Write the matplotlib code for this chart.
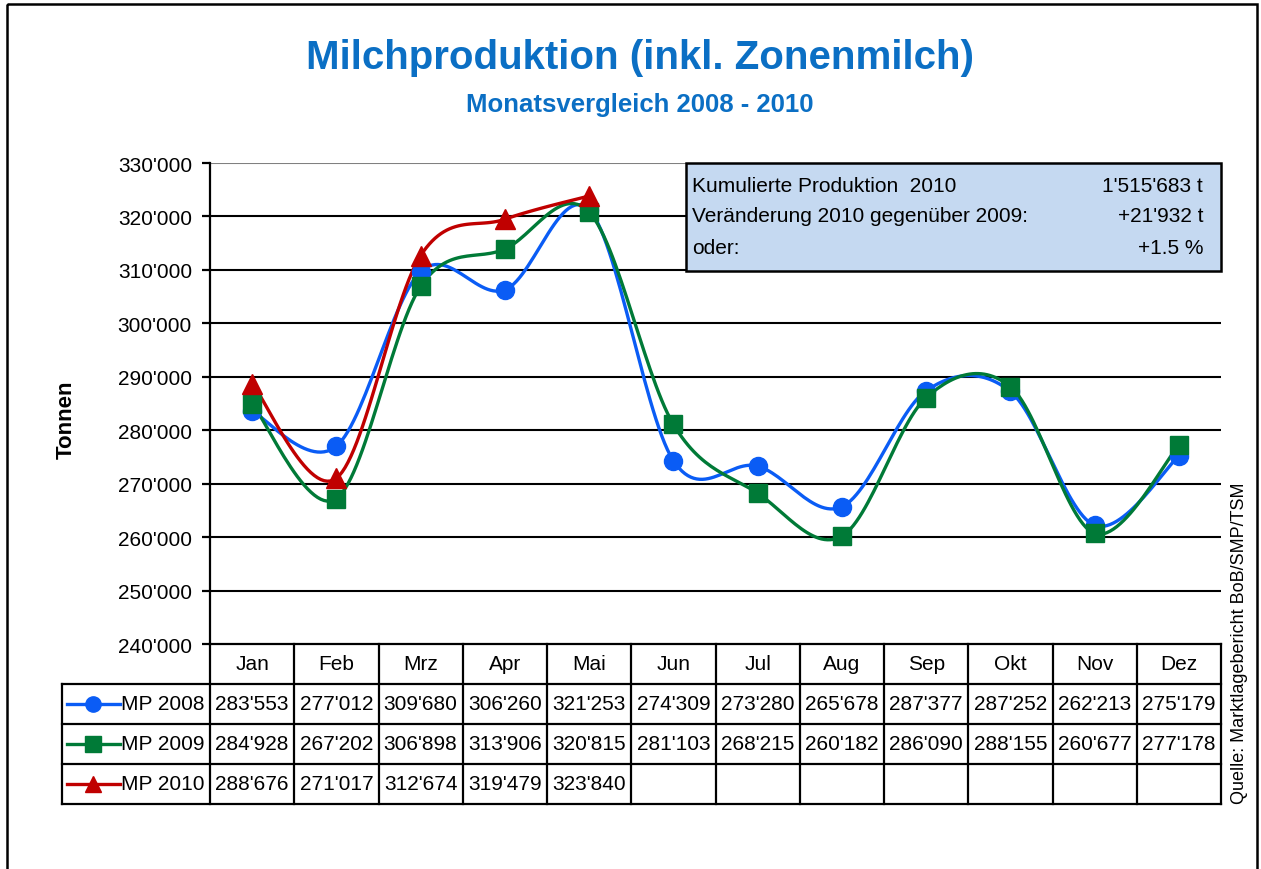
import matplotlib
matplotlib.use("Agg")
import matplotlib.pyplot as plt
from matplotlib.patches import Rectangle
from matplotlib.ticker import FuncFormatter
import numpy as np

plt.rcParams['font.family'] = ['Liberation Sans Narrow', 'Liberation Sans', 'DejaVu Sans']

months = ["Jan", "Feb", "Mrz", "Apr", "Mai", "Jun", "Jul", "Aug", "Sep", "Okt", "Nov", "Dez"]
mp2008 = [283553, 277012, 309680, 306260, 321253, 274309, 273280, 265678, 287377, 287252, 262213, 275179]
mp2009 = [284928, 267202, 306898, 313906, 320815, 281103, 268215, 260182, 286090, 288155, 260677, 277178]
mp2010 = [288676, 271017, 312674, 319479, 323840]
series_names = ["MP 2008", "MP 2009", "MP 2010"]
info_left = ["Kumulierte Produktion  2010", "Veränderung 2010 gegenüber 2009:", "oder:"]
info_right = ["1'515'683 t", "+21'932 t", "+1.5 %"]

colors = ["#0A5CF5", "#007A37", "#C00000"]
markers = ["o", "s", "^"]
title_blue = "#0B6FC4"

W, H = 1261, 870


def fmt(v):
    return "{:,}".format(int(v)).replace(",", "'")


def smooth(y, n=30):
    # Excel-artige Glaettung (Catmull-Rom / Bezier)
    y = np.asarray(y, dtype=float)
    x = np.arange(len(y), dtype=float)
    pts = np.column_stack([x, y])
    out = [pts[0]]
    for i in range(len(pts) - 1):
        p0 = pts[i - 1] if i > 0 else pts[i]
        p1 = pts[i]
        p2 = pts[i + 1]
        p3 = pts[i + 2] if i + 2 < len(pts) else pts[i + 1]
        c1 = p1 + (p2 - p0) / 6.0
        c2 = p2 - (p3 - p1) / 6.0
        t = np.linspace(0, 1, n)[1:, None]
        b = (1 - t) ** 3 * p1 + 3 * (1 - t) ** 2 * t * c1 + 3 * (1 - t) * t ** 2 * c2 + t ** 3 * p2
        out.extend(b)
    out = np.array(out)
    return out[:, 0], out[:, 1]


fig = plt.figure(figsize=(W / 100, H / 100), dpi=100)

ax_l, ax_r, ax_t, ax_b = 210, 1221, 164, 645
ax = fig.add_axes([ax_l / W, 1 - ax_b / H, (ax_r - ax_l) / W, (ax_b - ax_t) / H])
ax.set_xlim(-0.5, 11.5)
ax.set_ylim(240000, 330000)
ax.set_yticks(np.arange(240000, 330001, 10000))
ax.yaxis.set_major_formatter(FuncFormatter(lambda v, p: fmt(v)))
ax.set_xticks([])
for s in ["top", "right", "bottom"]:
    ax.spines[s].set_visible(False)
ax.spines["left"].set_linewidth(1.6)
ax.tick_params(axis="y", length=6, width=1.6, labelsize=15, pad=7)
for v in np.arange(250000, 330000, 10000):
    ax.axhline(v, color="black", lw=1.5, zorder=1)
ax.axhline(330000, color="#808080", lw=1.5, zorder=1)

for vals, c, m in zip([mp2008, mp2009, mp2010], colors, markers):
    sx, sy = smooth(vals)
    ax.plot(sx, sy, color=c, lw=2.4, zorder=3)
    ax.plot(np.arange(len(vals)), vals, linestyle="none", marker=m, color=c,
            markersize=13 if m != "^" else 14, zorder=4)

# overlay in Pixelkoordinaten
ov = fig.add_axes([0, 0, 1, 1])
ov.set_xlim(0, W)
ov.set_ylim(H, 0)
ov.axis("off")

# Rahmen um Grafik
ov.add_patch(Rectangle((7, 5), 1250, 900, fill=False, lw=1.8, ec="black", clip_on=True))

ov.text(640, 58, "Milchproduktion (inkl. Zonenmilch)", ha="center", va="center",
        fontsize=29, fontweight="bold", color=title_blue)
ov.text(640, 105, "Monatsvergleich 2008 - 2010", ha="center", va="center",
        fontsize=18.5, fontweight="bold", color=title_blue)

ov.text(66, 420, "Tonnen", rotation=90, ha="center", va="center", fontsize=16, fontweight="bold")

# Infobox
ov.add_patch(Rectangle((686, 164), 535, 108, fc="#C5D9F1", ec="black", lw=1.8, zorder=5))
for i, (a, b) in enumerate(zip(info_left, info_right)):
    yy = 186 + i * 31
    ov.text(692, yy, a, ha="left", va="center", fontsize=15, zorder=6)
    ov.text(1203, yy, b, ha="right", va="center", fontsize=15, zorder=6)

# Datentabelle
cw = (ax_r - ax_l) / 12
rows_y = [645, 685, 725, 765, 805]
lw = 1.6
ov.plot([ax_l, ax_r], [645, 645], color="black", lw=lw)
for k in range(13):
    x = ax_l + k * cw
    ov.plot([x, x], [645, 805], color="black", lw=lw)
for y in rows_y[1:]:
    ov.plot([62, ax_r], [y, y], color="black", lw=lw)
ov.plot([62, 62], [685, 805], color="black", lw=lw)
for k, mname in enumerate(months):
    ov.text(ax_l + (k + 0.5) * cw, 665, mname, ha="center", va="center", fontsize=15)

for r, (vals, c, m, name) in enumerate(zip([mp2008, mp2009, mp2010], colors, markers, series_names)):
    yc = (rows_y[r + 1] + rows_y[r + 2]) / 2
    ov.plot([67, 120], [yc, yc], color=c, lw=2.4)
    ov.plot([93], [yc], marker=m, color=c, markersize=11 if m != "^" else 12)
    ov.text(121, yc, name, ha="left", va="center", fontsize=15)
    for k, v in enumerate(vals):
        ov.text(ax_l + (k + 0.5) * cw, yc, fmt(v), ha="center", va="center", fontsize=15)

ov.text(1240, 643, "Quelle: Marktlagebericht BoB/SMP/TSM", rotation=90, ha="center", va="center",
        fontsize=13)

fig.savefig("out.png", dpi=100)
